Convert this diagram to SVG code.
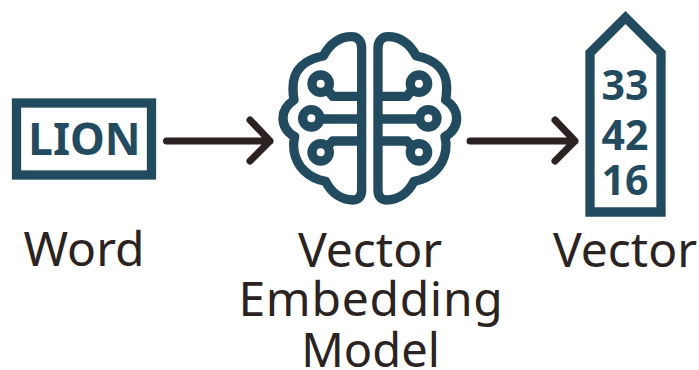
<svg xmlns="http://www.w3.org/2000/svg" width="699" height="370" viewBox="0 0 699 370">
<style>
.lbl{font-family:"Noto Sans","Open Sans",sans-serif;font-size:48px;fill:#2a2322;text-anchor:middle}
.in{font-family:"Noto Sans","Open Sans",sans-serif;font-weight:700;fill:#234b60;text-anchor:middle}
.sh{fill:none;stroke:#234b60;stroke-width:9.3}
.arr{fill:none;stroke:#2a2322;stroke-width:7;stroke-linecap:round;stroke-linejoin:round}
.b{fill:none;stroke:#234b60;stroke-width:28;stroke-linejoin:round}
</style>
<rect width="699" height="370" fill="#fff"/>
<g id="word">
<rect class="sh" x="16.500" y="103" width="135" height="72"/>
<text class="in" x="84.500" y="155" font-size="44">LION</text>
<text class="lbl" x="84" y="266">Word</text>
</g>
<g id="model">
<g transform="translate(270 20) scale(.3333)">
<path class="b" d="M275 85C275 62 262 50 245 50C205 50 178 75 160 108C105 118 68 150 69 205C69 218 70 230 72 240C50 255 39 272 39 294C39 318 53 338 74 350C70 365 70 380 72 392C80 440 115 475 167 484C185 520 215 540 250 540C265 540 275 530 275 510Z"/>
<circle class="b" cx="152" cy="191" r="26"/>
<circle class="b" cx="124" cy="295" r="26"/>
<circle class="b" cx="152" cy="397" r="26"/>
<path class="b" d="M172 208L188 229H275M150 297H275M172 380L188 363H275"/>
<g transform="translate(599 0) scale(-1 1)">
<path class="b" d="M275 85C275 62 262 50 245 50C205 50 178 75 160 108C105 118 68 150 69 205C69 218 70 230 72 240C50 255 39 272 39 294C39 318 53 338 74 350C70 365 70 380 72 392C80 440 115 475 167 484C185 520 215 540 250 540C265 540 275 530 275 510Z"/>
<circle class="b" cx="152" cy="191" r="26"/>
<circle class="b" cx="124" cy="295" r="26"/>
<circle class="b" cx="152" cy="397" r="26"/>
<path class="b" d="M172 208L188 229H275M150 297H275M172 380L188 363H275"/>
</g>
</g>
<text class="lbl" x="370" y="266.500">Vector</text>
<text class="lbl" x="371" y="315.500" letter-spacing=".7">Embedding</text>
<text class="lbl" x="370.500" y="366.500" font-size="47" style="font-size:47px">Model</text>
</g>
<g id="vector">
<path class="sh" d="M590 212V53L625.500 17.500L661 53V212Z"/>
<text class="in" x="625" y="100" font-size="41">33</text>
<text class="in" x="625" y="150" font-size="41">42</text>
<text class="in" x="625" y="195" font-size="41">16</text>
<text class="lbl" x="625" y="266.500">Vector</text>
</g>
<g id="connectors">
<path class="arr" d="M166.500 141H270M250 120L270 141L250 161"/>
<path class="arr" d="M470 141H575M555 120L575 141L555 161"/>
</g>
</svg>
